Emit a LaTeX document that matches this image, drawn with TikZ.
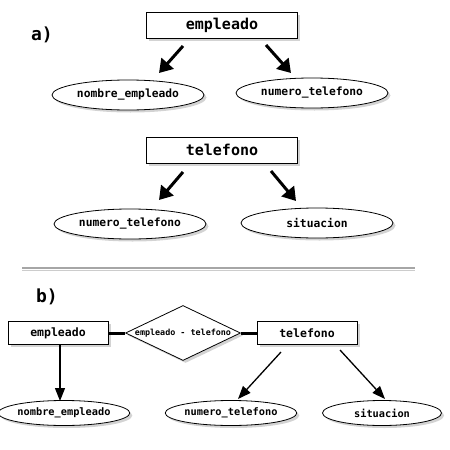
\documentclass[tikz,border=0pt]{standalone}
\usepackage{fontspec}
\newfontfamily\monob{DejaVu Sans Mono Bold}
\usetikzlibrary{shapes.geometric,shadows,arrows.meta}
\begin{document}
\begin{tikzpicture}[x=1pt,y=-1pt,
  shad/.style={drop shadow={opacity=0.35,shadow xshift=2.5pt,shadow yshift=-2.5pt}},
  bigbox/.style={draw,line width=0.8pt,fill=white,shad,minimum width=151pt,minimum height=26pt,inner sep=0pt,font=\monob\fontsize{15}{15}\selectfont},
  smallbox/.style={draw,line width=0.8pt,fill=white,shad,minimum width=100pt,minimum height=23pt,inner sep=0pt,font=\monob\fontsize{11.5}{12}\selectfont},
  bigell/.style={ellipse,draw,line width=0.8pt,fill=white,shad,minimum width=152pt,minimum height=30pt,inner sep=0pt,font=\monob\fontsize{11.3}{12}\selectfont},
  smallell/.style={ellipse,draw,line width=0.8pt,fill=white,shad,minimum width=119pt,minimum height=25pt,inner sep=0pt,font=\monob\fontsize{10.3}{11}\selectfont},
  fatarrow/.style={line width=3pt,-{Triangle[length=13pt,width=16pt]}},
  thinarrow/.style={line width=1.3pt,-{Triangle[length=13pt,width=10pt]}},
  link/.style={line width=3pt},
  lbl/.style={font=\monob\fontsize{18}{18}\selectfont,inner sep=0pt}
]
\useasboundingbox (0,0) rectangle (450,450);
% part a
\node[lbl] (la) at (42,35) {a)};
\node[bigbox] (emp) at (222,25) {empleado};
\node[bigell] (ne) at (128,95) {nombre\_empleado};
\node[bigell] (nt) at (312,93) {numero\_telefono};
\coordinate (a1s) at (183,46);
\coordinate (a1e) at (159,73);
\coordinate (a2s) at (266,45);
\coordinate (a2e) at (291,73);
\draw[fatarrow] (a1s) -- (a1e);
\draw[fatarrow] (a2s) -- (a2e);

\node[bigbox] (tel) at (222,150) {telefono};
\node[bigell] (nt2) at (130,224) {numero\_telefono};
\node[bigell] (sit) at (317,223) {situacion};
\coordinate (a3s) at (183,172);
\coordinate (a3e) at (159,200);
\coordinate (a4s) at (271,171);
\coordinate (a4e) at (296,201);
\draw[fatarrow] (a3s) -- (a3e);
\draw[fatarrow] (a4s) -- (a4e);

% separator
\coordinate (s1) at (22,268);
\coordinate (s2) at (415,268);
\draw[gray!70,line width=1.6pt] (s1) -- (s2);
\draw[gray!40,line width=1pt] ([yshift=-2pt]s1) -- ([yshift=-2pt]s2);

% part b
\node[lbl] (lb) at (47,297) {b)};
\node[smallbox] (emp2) at (58,333) {empleado};
\node[diamond,aspect=2.1,draw,line width=0.8pt,fill=white,shad,minimum width=115pt,minimum height=55pt,inner sep=0pt,font=\monob\fontsize{8.4}{9}\selectfont] (rel) at (183,333) {empleado - telefono};
\node[smallbox] (tel2) at (307,333) {telefono};
\draw[link] (emp2) -- (rel);
\draw[link] (rel) -- (tel2);
\node[smallell] (ne2) at (64,413) {nombre\_empleado};
\node[smallell] (nt3) at (231,413) {numero\_telefono};
\node[smallell] (sit2) at (382,413) {situacion};
\coordinate (b1s) at (60,345);
\coordinate (b1e) at (60,401);
\coordinate (b2s) at (281,352);
\coordinate (b2e) at (238,399);
\coordinate (b3s) at (340,350);
\coordinate (b3e) at (385,399);
\draw[thinarrow] (b1s) -- (b1e);
\draw[thinarrow] (b2s) -- (b2e);
\draw[thinarrow] (b3s) -- (b3e);
\end{tikzpicture}
\end{document}
